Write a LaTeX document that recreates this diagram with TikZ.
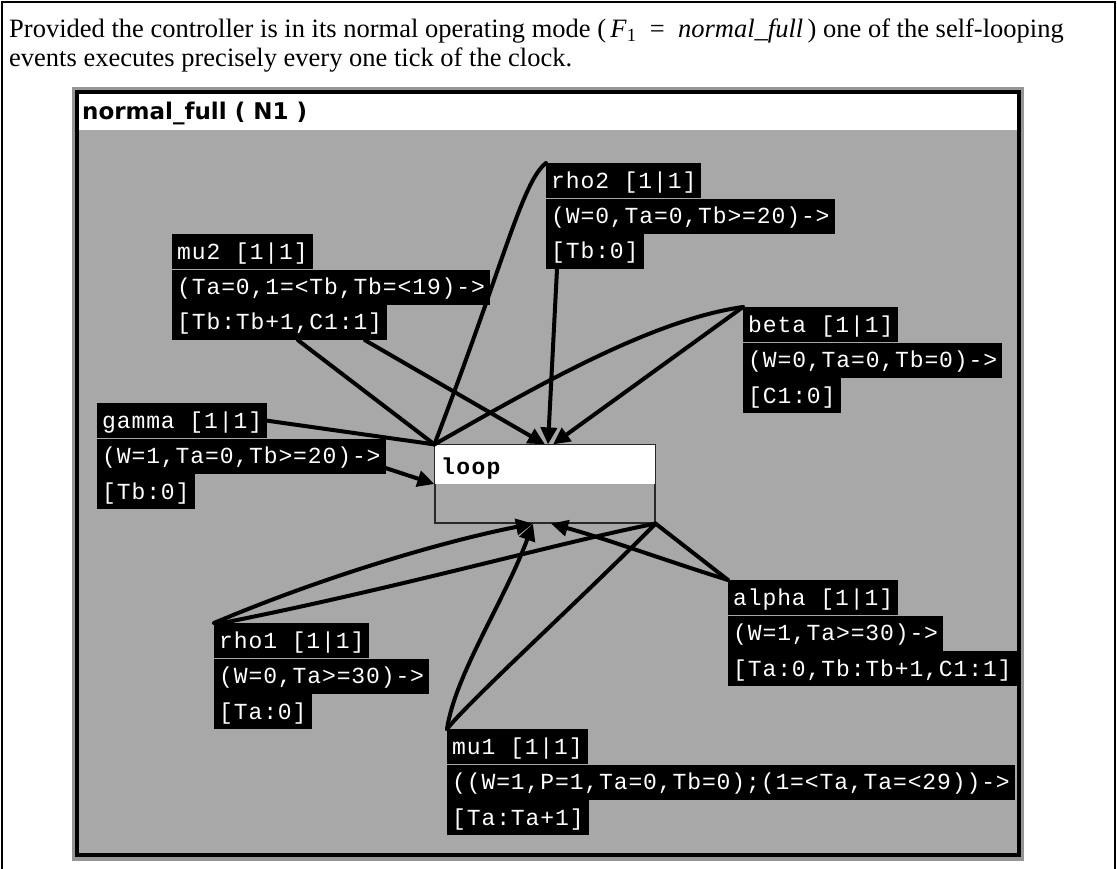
\documentclass[tikz,border=0pt]{standalone}
\usepackage{fontspec}
\setmainfont{Liberation Serif}
\newfontfamily\lblfont[LetterSpace=3.9]{Liberation Mono}
\newfontfamily\loopfont[LetterSpace=6]{Liberation Mono}
\newfontfamily\titlefont{DejaVu Sans}
\usetikzlibrary{arrows.meta}
\definecolor{panel}{RGB}{168,168,168}
\definecolor{rim}{RGB}{150,150,150}
\definecolor{boxline}{RGB}{40,40,40}
\tikzset{
  lbl/.style={fill=black, text=white, font=\lblfont\fontsize{23}{23}\selectfont,
    anchor=north west, inner xsep=5pt, inner ysep=0pt, minimum height=35pt,
    text height=17pt, text depth=2pt},
  wire/.style={line width=4pt, line cap=round, line join=round},
  arr/.style={wire, -{Triangle[length=17pt,width=16pt]}},
}
\begin{document}
\begin{tikzpicture}[x=1pt,y=-1pt]
\useasboundingbox (0,0) rectangle (1117,869);
\fill[white] (0,0) rectangle (1117,869);

% caption box, open at the bottom
\draw[line width=1.2pt] (2,869) -- (2,2) -- (1115,2) -- (1115,869);
\node[anchor=base west, inner sep=0, font=\fontsize{26.5}{30}\selectfont] (cap1) at (9,38)
  {Provided the controller is in its normal operating mode (\,\textit{F}\textsubscript{1} \ = \ \textit{normal\_full}\,) one of the self-looping};
\node[anchor=base west, inner sep=0, font=\fontsize{26.5}{30}\selectfont] (cap2) at (9,67)
  {events executes precisely every one tick of the clock.};

% state frame
\fill[rim] (72,87) rectangle (1024,861);
\fill[black] (75,90) rectangle (1021,857);
\fill[panel] (79,94) rectangle (1017,853);
\fill[white] (79,94) rectangle (1017,130);
\node[anchor=west, inner sep=0, font=\titlefont\bfseries\fontsize{23}{24}\selectfont] (title) at (82,113)
  {normal\_full ( N1 )};

% the looping state
\node[draw=boxline, line width=1.2pt, fill=panel, minimum width=220pt, minimum height=78pt, inner sep=0] (loop) at (545,484) {};
\fill[white] ([shift={(0.6pt,-0.6pt)}]loop.north west) rectangle (loop.east);
\draw[boxline, line width=1.2pt] (loop.north west) rectangle (loop.south east);
\node[anchor=base west, inner sep=0, font=\loopfont\bfseries\fontsize{23}{23}\selectfont] (looptext) at (441,474) {loop};

% event labels
\node[lbl] (rho2a) at (546,163) {rho2 [1|1]};
\node[lbl] (rho2b) at (rho2a.south west) {(W=0,Ta=0,Tb>=20)->};
\node[lbl] (rho2c) at (rho2b.south west) {[Tb:0]};

\node[lbl] (mu2a) at (172,234) {mu2 [1|1]};
\node[lbl] (mu2b) at (mu2a.south west) {(Ta=0,1=<Tb,Tb=<19)->};
\node[lbl] (mu2c) at (mu2b.south west) {[Tb:Tb+1,C1:1]};

\node[lbl] (betaa) at (743,307) {beta [1|1]};
\node[lbl] (betab) at (betaa.south west) {(W=0,Ta=0,Tb=0)->};
\node[lbl] (betac) at (betab.south west) {[C1:0]};

\node[lbl] (gammaa) at (97,403) {gamma [1|1]};
\node[lbl] (gammab) at (gammaa.south west) {(W=1,Ta=0,Tb>=20)->};
\node[lbl] (gammac) at (gammab.south west) {[Tb:0]};

\node[lbl] (alphaa) at (728,580) {alpha [1|1]};
\node[lbl] (alphab) at (alphaa.south west) {(W=1,Ta>=30)->};
\node[lbl] (alphac) at (alphab.south west) {[Ta:0,Tb:Tb+1,C1:1]};

\node[lbl] (rho1a) at (214,623) {rho1 [1|1]};
\node[lbl] (rho1b) at (rho1a.south west) {(W=0,Ta>=30)->};
\node[lbl] (rho1c) at (rho1b.south west) {[Ta:0]};

\node[lbl] (mu1a) at (447,729) {mu1 [1|1]};
\node[lbl] (mu1b) at (mu1a.south west) {((W=1,P=1,Ta=0,Tb=0);(1=<Ta,Ta=<29))->};
\node[lbl] (mu1c) at (mu1b.south west) {[Ta:Ta+1]};

% arrival points on the state
\coordinate (tipA) at (loop.north);
\coordinate (tipB) at ([xshift=3pt]loop.north);
\coordinate (tipC) at ([xshift=8pt]loop.north);
\coordinate (tipD) at ([xshift=-12pt]loop.south);
\coordinate (tipE) at ([xshift=6pt]loop.south);

% mu2
\draw[wire] (loop.north west) -- ([xshift=126pt]mu2c.south west);
\draw[arr] ([xshift=193pt]mu2c.south west) -- (tipA);
% rho2
\draw[wire] (loop.north west) .. controls (505,260) and (522,182) .. (rho2a.north west);
\draw[arr] ([xshift=11pt]rho2c.south west) -- (tipB);
% beta
\draw[wire] (loop.north west) .. controls (530,390) and (650,320) .. (betaa.north west);
\draw[arr] (betaa.north west) -- (tipC);
% gamma
\draw[wire] (gammaa.east) -- (loop.north west);
\draw[arr] ([yshift=-12pt]gammab.east) -- (loop.west);
% rho1
\draw[arr] (rho1a.north west) .. controls (320,578) and (440,542) .. (tipD);
\draw[wire] ([xshift=8pt]rho1a.north west) .. controls (390,590) and (570,540) .. (loop.south east);
% alpha
\draw[wire] (loop.south east) -- (alphaa.north west);
\draw[arr] (alphaa.north west) .. controls (670,562) and (610,540) .. (tipE);
% mu1
\draw[arr] (mu1a.north west) .. controls (455,675) and (505,600) .. (tipD);
\draw[wire] (loop.south east) .. controls (580,600) and (470,700) .. (mu1a.north west);
\end{tikzpicture}
\end{document}
